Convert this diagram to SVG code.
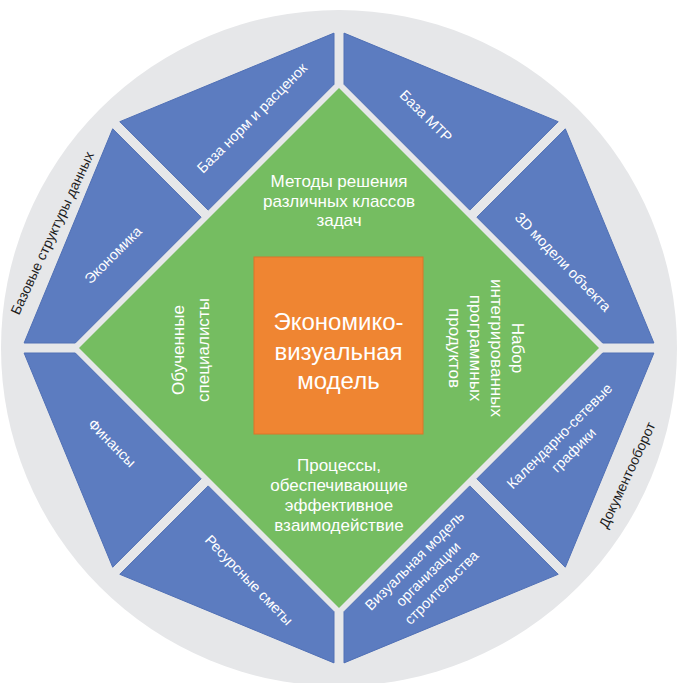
<svg xmlns="http://www.w3.org/2000/svg" width="687" height="683" viewBox="0 0 687 683">
<style>
.bg{fill:#ffffff}
.ring{fill:#e6e7e9}
.piece{fill:#5c7cc0;stroke:#5070b5;stroke-width:1;stroke-linejoin:miter}
.core{fill:#75bd61}
.box{fill:#ef8532;stroke:#dd7428;stroke-width:1}
text{font-family:"Liberation Sans","Noto Sans",Arial,sans-serif;text-anchor:middle}
.bl{fill:#ffffff;font-size:14.5px}
.gl{fill:#ffffff;font-size:17px}
.ol{fill:#1e1e1e;font-size:14px}
.cl{fill:#ffffff;font-size:24px}
</style>
<rect class="bg" x="0" y="0" width="687" height="683"/>
<circle id="ring" class="ring" cx="339" cy="348" r="338"/>
<g id="ring-labels">
  <text class="ol" transform="translate(52,233) rotate(-65)" y="5">Базовые структуры данных</text>
  <text class="ol" transform="translate(627,475) rotate(-65)" y="5">Документооборот</text>
</g>
<g id="connectors"></g>
<g id="n-baza-norm">
  <polygon class="piece" points="334,33.1 119.8,121.7 208.2,210.1 334,84.3"/>
  <text class="bl" transform="translate(252,118) rotate(-45)" y="5">База норм и расценок</text>
</g>
<g id="n-baza-mtr">
  <polygon class="piece" points="344,33.1 558.2,121.7 469.8,210.1 344,84.3"/>
  <text class="bl" transform="translate(426,116) rotate(45)" y="5">База МТР</text>
</g>
<g id="n-3d">
  <polygon class="piece" points="653.9,343 565.3,128.8 476.9,217.2 602.7,343"/>
  <text class="bl" transform="translate(563,262) rotate(46)" y="5">3D модели объекта</text>
</g>
<g id="n-kalendar">
  <polygon class="piece" points="653.9,353 565.3,567.2 476.9,478.8 602.7,353"/>
  <text class="bl" transform="translate(566.5,443) rotate(-45)"><tspan x="0" y="-5">Календарно-сетевые</tspan><tspan x="0" y="15">графики</tspan></text>
</g>
<g id="n-vizual">
  <polygon class="piece" points="344,662.9 558.2,574.3 469.8,485.9 344,611.7"/>
  <text class="bl" transform="translate(428,574) rotate(-45)"><tspan x="0" y="-14">Визуальная модель</tspan><tspan x="0" y="5">организации</tspan><tspan x="0" y="24">строительства</tspan></text>
</g>
<g id="n-resurs">
  <polygon class="piece" points="334,662.9 119.8,574.3 208.2,485.9 334,611.7"/>
  <text class="bl" transform="translate(249,580) rotate(46)" y="5">Ресурсные сметы</text>
</g>
<g id="n-finansy">
  <polygon class="piece" points="24.1,353 112.7,567.2 201.1,478.8 75.3,353"/>
  <text class="bl" transform="translate(112,443) rotate(45)" y="5">Финансы</text>
</g>
<g id="n-ekonomika">
  <polygon class="piece" points="24.1,343 112.7,128.8 201.1,217.2 75.3,343"/>
  <text class="bl" transform="translate(113,255) rotate(-45)" y="5">Экономика</text>
</g>
<g id="n-core">
  <polygon class="core" points="339,88 599,348 339,608 79,348"/>
  <text class="gl"><tspan x="339" y="187">Методы решения</tspan><tspan x="339" y="206.5">различных классов</tspan><tspan x="339" y="226">задач</tspan></text>
  <text class="gl"><tspan x="339" y="471">Процессы,</tspan><tspan x="339" y="491">обеспечивающие</tspan><tspan x="339" y="511">эффективное</tspan><tspan x="339" y="531">взаимодействие</tspan></text>
  <text class="gl" transform="translate(190,350) rotate(-90)"><tspan x="0" y="-6.5">Обученные</tspan><tspan x="0" y="18.5">специалисты</tspan></text>
  <text class="gl" transform="translate(486,348) rotate(90)"><tspan x="0" y="-25.5">Набор</tspan><tspan x="0" y="-4.5">интегрированных</tspan><tspan x="0" y="16.5">программных</tspan><tspan x="0" y="37.5">продуктов</tspan></text>
</g>
<g id="n-model">
  <rect class="box" x="254" y="257" width="169" height="177"/>
  <text class="cl"><tspan x="338.5" y="330">Экономико-</tspan><tspan x="338.5" y="360">визуальная</tspan><tspan x="338.5" y="389">модель</tspan></text>
</g>
</svg>
